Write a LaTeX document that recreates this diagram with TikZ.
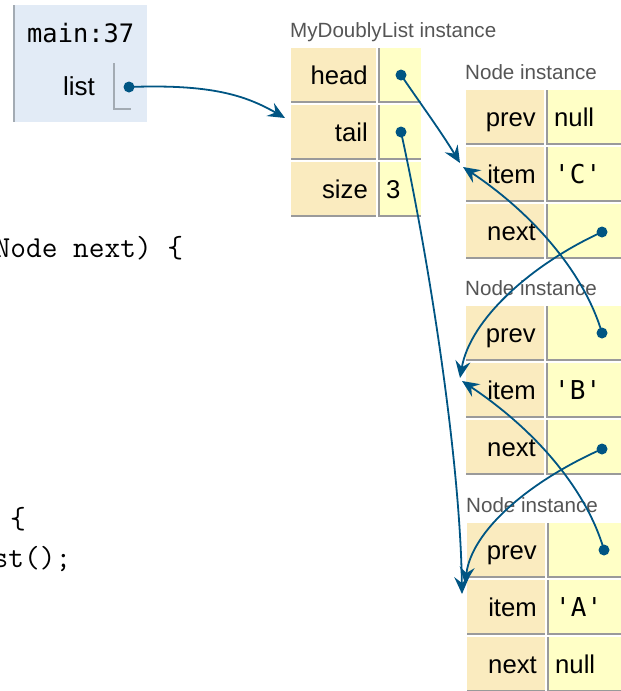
\documentclass[tikz,border=0pt]{standalone}
\usepackage{fontspec}
\newfontfamily\uisans{Liberation Sans}
\newfontfamily\uimono{DejaVu Sans Mono}
\usetikzlibrary{arrows.meta}
\definecolor{framebg}{HTML}{E2EBF6}
\definecolor{frameline}{HTML}{A3ABB3}
\definecolor{keybg}{HTML}{FAEBBF}
\definecolor{valbg}{HTML}{FFFFC6}
\definecolor{cellline}{HTML}{9A9A9A}
\definecolor{ptr}{HTML}{005583}
\definecolor{lbl}{HTML}{555555}
% #1 name, #2 x key-left, #3 x value-left, #4 x value-right, #5 y top, #6 key, #7 value style, #8 value
\newcommand\ptRow[8]{%
  \fill[keybg] (#2,#5) rectangle ({#3-2},{#5+55});
  \fill[cellline] (#2,{#5+53}) rectangle ({#3-2},{#5+55});
  \fill[valbg] (#3,#5) rectangle (#4,{#5+55});
  \fill[cellline] (#3,#5) rectangle ({#3+2},{#5+55});
  \fill[cellline] (#3,{#5+53}) rectangle (#4,{#5+55});
  \node[keytxt] (#1k) at ({#3-10},{#5+36}) {#6};
  \node[#7] (#1v) at ({#3+8},{#5+36}) {#8};
}
\begin{document}
\begin{tikzpicture}[x=1pt,y=-1pt,
  dot/.style={circle,fill=ptr,inner sep=0pt,minimum size=11pt},
  ptrarrow/.style={draw=ptr,line width=1.8pt,-{Stealth[length=17pt,width=15pt,inset=6pt]}},
  keytxt/.style={anchor=base east,inner sep=0pt,font=\uisans\fontsize{25.7}{30}\selectfont},
  valtxt/.style={anchor=base west,inner sep=0pt,font=\uisans\fontsize{25.7}{30}\selectfont},
  valmono/.style={anchor=base west,inner sep=0pt,font=\uimono\fontsize{26}{30}\selectfont},
  lbltxt/.style={anchor=base west,inner sep=0pt,text=lbl,font=\uisans\fontsize{20.6}{24}\selectfont},
  codetxt/.style={anchor=base west,inner sep=0pt,font=\ttfamily\fontsize{30.5}{39}\selectfont},
]
\useasboundingbox (0,0) rectangle (621,691);
\clip (0,0) rectangle (621,691);

% background code fragments
\node[codetxt] (code1) at (-5.5,257) {Node next) \{};
\node[codetxt] (code2) at (10,528) {\{};
\node[codetxt] (code3) at (-7.5,567) {st();};

% stack frame
\fill[framebg] (13,5) rectangle (147,122);
\fill[frameline] (13,5) rectangle (15,122);
\node[anchor=base west,inner sep=0pt,font=\uimono\fontsize{25.4}{30}\selectfont] (fname) at (27,42) {main:37};
\node[anchor=base east,inner sep=0pt,font=\uisans\fontsize{26}{30}\selectfont] (vlist) at (95,95) {list};
\draw[frameline,line width=2pt] (114,63) -- (114,109) -- (131,109);

% MyDoublyList instance
\node[lbltxt] (lbllist) at (290,37) {MyDoublyList instance};
\ptRow{head}{291}{378}{421}{48}{head}{valtxt}{}
\ptRow{tail}{291}{378}{421}{105}{tail}{valtxt}{}
\ptRow{size}{291}{378}{421}{162}{size}{valtxt}{3}

% Node C
\node[lbltxt] (lblC) at (465,79) {Node instance};
\ptRow{Cprev}{466}{546}{621}{90}{prev}{valtxt}{null}
\ptRow{Citem}{466}{546}{621}{147}{item}{valmono}{'C'}
\ptRow{Cnext}{466}{546}{621}{204}{next}{valtxt}{}

% Node B
\node[lbltxt] (lblB) at (465,295) {Node instance};
\ptRow{Bprev}{466}{546}{621}{306}{prev}{valtxt}{}
\ptRow{Bitem}{466}{546}{621}{363}{item}{valmono}{'B'}
\ptRow{Bnext}{466}{546}{621}{420}{next}{valtxt}{}

% Node A
\node[lbltxt] (lblA) at (466,512) {Node instance};
\ptRow{Aprev}{467}{547}{621}{523}{prev}{valtxt}{}
\ptRow{Aitem}{467}{547}{621}{580}{item}{valmono}{'A'}
\ptRow{Anext}{467}{547}{621}{637}{next}{valtxt}{null}

% pointer dots
\node[dot] (dlist) at (129,87) {};
\node[dot] (dhead) at (401,75) {};
\node[dot] (dtail) at (401,132) {};
\node[dot] (dCnext) at (602,232) {};
\node[dot] (dBprev) at (602,333) {};
\node[dot] (dBnext) at (602,449) {};
\node[dot] (dAprev) at (604,550) {};

% targets
\coordinate (tlist) at (285,118);
\coordinate (tC1) at (460,163);
\coordinate (tC2) at (463,167);
\coordinate (tB1) at (460,378);
\coordinate (tB2) at (462,381);
\coordinate (tA1) at (462,594);
\coordinate (tA2) at (465,584);

% arrows
\draw[ptrarrow] (dlist.center) .. controls (210,84) and (245,95) .. (tlist);
\draw[ptrarrow] (dhead.center) .. controls (420,103) and (440,130) .. (tC1);
\draw[ptrarrow] (dtail.center) .. controls (425,240) and (460,450) .. (tA1);
\draw[ptrarrow] (dCnext.center) .. controls (530,265) and (470,320) .. (tB1);
\draw[ptrarrow] (dBprev.center) .. controls (585,275) and (535,215) .. (tC2);
\draw[ptrarrow] (dBnext.center) .. controls (530,481) and (472,530) .. (tA2);
\draw[ptrarrow] (dAprev.center) .. controls (587,491) and (537,431) .. (tB2);
\end{tikzpicture}
\end{document}
